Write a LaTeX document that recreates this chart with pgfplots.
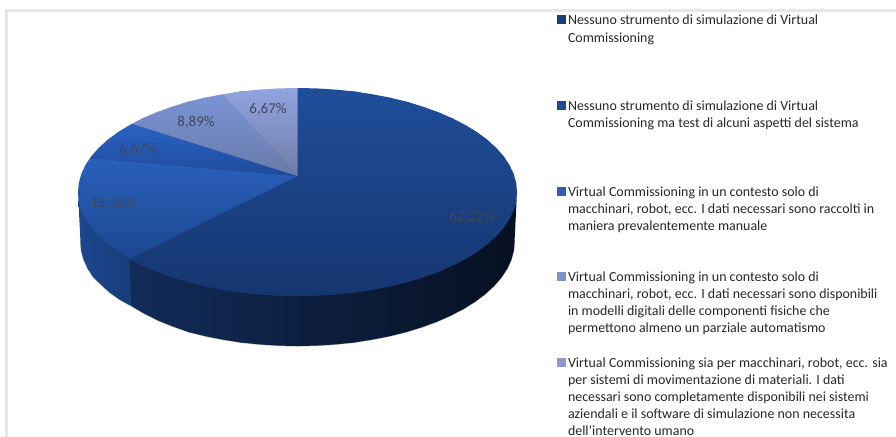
\documentclass[border=0pt]{standalone}
\usepackage{pgfplots}
\usepackage{fontspec}
\setmainfont{Carlito}
\pgfplotsset{compat=1.18}
\definecolor{frameC}{HTML}{E4E8EE}
\definecolor{labC}{HTML}{404858}
\definecolor{legC}{HTML}{262626}
\definecolor{s1}{HTML}{1F4E9A}\definecolor{s1b}{HTML}{163670}
\definecolor{s2}{HTML}{2A60BB}\definecolor{s2b}{HTML}{1C4790}
\definecolor{s3}{HTML}{2A62C4}\definecolor{s3b}{HTML}{1F4C9C}
\definecolor{s4}{HTML}{7B94D6}\definecolor{s4b}{HTML}{687AA8}
\definecolor{s5}{HTML}{92A4E0}\definecolor{s5b}{HTML}{6F7CA6}
\definecolor{k1}{HTML}{1A3E7E}\definecolor{k1x}{HTML}{1E4A9A}\definecolor{k2}{HTML}{2C5FB5}\definecolor{k4}{HTML}{7D93CE}\definecolor{k5}{HTML}{8A9AD0}
\definecolor{back}{HTML}{1A3E80}
\begin{document}
\begin{tikzpicture}
\path[use as bounding box] (0,0) rectangle (896bp,437bp);
\begin{axis}[
  at={(0,0)}, anchor=south west,
  scale only axis, width=896bp, height=437bp,
  xmin=0, xmax=896, ymin=0, ymax=437, y dir=reverse,
  hide axis, clip=false,
]
% frame
\addplot[no marks, draw=frameC, line width=2.4pt] coordinates {(6.5,437) (6.5,10.5) (896,10.5)};
% shadow under the side
\addplot[no marks, draw=gray!55, line width=1.1pt] coordinates {
(80.5,242)(81.3,251.1)(83.8,260.1)(87.9,268.9)(93.6,277.6)(100.9,284.5)(109.6,292.5)(119.8,299.7)(131.3,306)(144.1,313.5)(158,320.5)(173,326.5)(189,332.1)(205.8,336.3)(223.3,339.7)(241.3,342.5)(259.8,344.4)(278.6,345.6)(297.5,346)(316.4,345.6)(335.2,344.4)(353.7,342.5)(371.7,339.7)(389.2,336.3)(406,332.1)(422,327.2)(437,321.7)(450.9,315.5)(463.7,308.9)(475.2,301.7)(485.4,294)(494.1,286)(501.4,277.6)(507.1,268.9)(511.2,260.1)(513.7,251.1)(514.5,242)};
% backing, inside the outline, so that no white shows at the seams
\addplot[draw=none, fill=back] coordinates {
(78.5,192)(85.5,165.1)(107.4,140)(142.3,118.5)(187.7,101.9)(240.7,91.5)(297.5,88.5)(354.3,91.5)(407.3,101.9)(452.7,118.5)(487.6,140)(509.5,165.1)(516.5,192)(513,242)(507.1,268.9)(485.4,294)(450.9,315.5)(406,332.1)(353.7,342.5)(297.5,345.5)(241.3,342.5)(189,332.1)(144.1,313)(109.6,292)(87.9,268.9)(81,242)} -- cycle;
% side: 62,22 %
\addplot[draw=none, shade, left color=k1!70!black, middle color=s1b!35!black, right color=s1b!30!black] coordinates {
(129.4,258.9)(142.3,265.5)(156.4,271.7)(171.6,277.2)(187.7,282.1)(204.7,286.3)(222.4,289.7)(240.7,292.5)(259.4,294.4)(278.4,295.6)(297.5,296)(316.6,295.6)(335.6,294.4)(354.3,292.5)(372.6,289.7)(390.3,286.3)(407.3,282.1)(423.4,277.2)(438.6,271.7)(452.7,265.5)(465.6,258.9)(477.3,251.7)(487.6,244)(496.4,236)(503.8,227.6)(509.5,218.9)(513.7,210.1)(516.2,201.1)(517,192)
(514.5,242)(513.7,251.1)(511.2,260.1)(507.1,268.9)(501.4,277.6)(494.1,286)(485.4,294)(475.2,301.7)(463.7,308.9)(450.9,315.5)(437,321.7)(422,327.2)(406,332.1)(389.2,336.3)(371.7,339.7)(353.7,342.5)(335.2,344.4)(316.4,345.6)(297.5,346)(278.6,345.6)(259.8,344.4)(241.3,342.5)(223.3,339.7)(205.8,336.3)(189,332.1)(173,326.5)(158,320.5)(144.1,313.5)(131.3,306)} -- cycle;
% side: 15,56 %
\addplot[draw=none, shade, left color=s2b, right color=s2b!85!black] coordinates {
(78,192)(78.8,201.1)(81.3,210.1)(85.5,218.9)(91.2,227.6)(98.6,236)(107.4,244)(117.7,251.7)(129.4,258.9)
(131.3,306)(119.8,299.7)(109.6,292.5)(100.9,284.5)(93.6,277.6)(87.9,268.9)(83.8,260.1)(81.3,251.1)(80.5,242)} -- cycle;
% top: 62,22 %
\addplot[draw=none, shade, top color=s1, bottom color=s1b] coordinates {
(297.5,176)(297.5,88)(316.6,88.4)(335.6,89.6)(354.3,91.5)(372.6,94.3)(390.3,97.7)(407.3,101.9)(423.4,106.8)(438.6,112.3)(452.7,118.5)(465.6,125.1)(477.3,132.3)(487.6,140)(496.4,148)(503.8,156.4)(509.5,165.1)(513.7,173.9)(516.2,182.9)(517,192)(516.2,201.1)(513.7,210.1)(509.5,218.9)(503.8,227.6)(496.4,236)(487.6,244)(477.3,251.7)(465.6,258.9)(452.7,265.5)(438.6,271.7)(423.4,277.2)(407.3,282.1)(390.3,286.3)(372.6,289.7)(354.3,292.5)(335.6,294.4)(316.6,295.6)(297.5,296)(278.4,295.6)(259.4,294.4)(240.7,292.5)(222.4,289.7)(204.7,286.3)(187.7,282.1)(171.6,277.2)(156.4,271.7)(142.3,265.5)(129.4,258.9)} -- cycle;
% top: 15,56 %
\addplot[draw=none, shade, top color=s2, bottom color=s2b] coordinates {
(297.5,176)(129.4,258.9)(117.7,251.7)(107.4,244)(98.6,236)(91.2,227.6)(85.5,218.9)(81.3,210.1)(78.8,201.1)(78,192)(78.8,182.9)(81.3,173.9)(85.5,165.1)(90,158.1)} -- cycle;
% top: 6,67 %
\addplot[draw=none, shade, top color=s3, bottom color=s3b] coordinates {
(297.5,176)(90,158.1)(91.2,156.4)(98.6,148)(107.4,140)(117.7,132.3)(131.8,123.8)} -- cycle;
% top: 8,89 %
\addplot[draw=none, shade, top color=s4, bottom color=s4b] coordinates {
(297.5,176)(131.8,123.8)(142.3,118.5)(156.4,112.3)(171.6,106.8)(187.7,101.9)(204.7,97.7)(222.4,94.3)} -- cycle;
% top: 6,67 %
\addplot[draw=none, shade, top color=s5, bottom color=s5b] coordinates {
(297.5,176)(222.4,94.3)(240.7,91.5)(259.4,89.6)(278.4,88.4)(297.5,88)} -- cycle;
% data labels
\begin{scope}[every node/.style={font=\fontsize{15}{16}\selectfont, text=labC, anchor=center, inner sep=0pt, outer sep=0pt}]
\node at (axis cs:472,217) {62,22\%};
\node at (axis cs:113,203) {15,56\%};
\node at (axis cs:138,149) {6,67\%};
\node at (axis cs:196,122) {8,89\%};
\node at (axis cs:268,109) {6,67\%};
\end{scope}
% legend keys
\addplot[only marks, mark=square*, mark size=3.9bp, color=k1] coordinates {(561,19)};
\addplot[only marks, mark=square*, mark size=3.9bp, color=k1x] coordinates {(561,105)};
\addplot[only marks, mark=square*, mark size=3.9bp, color=k2] coordinates {(561,191)};
\addplot[only marks, mark=square*, mark size=3.9bp, color=k4] coordinates {(561,276)};
\addplot[only marks, mark=square*, mark size=3.9bp, color=k5] coordinates {(561,362)};
% legend text
\begin{scope}[every node/.style={font=\fontsize{14}{16}\selectfont, text=legC, anchor=base west, inner sep=0pt, outer sep=0pt}]
\node at (axis cs:568,25) {Nessuno strumento di simulazione di Virtual};
\node at (axis cs:568,42) {Commissioning};
\node at (axis cs:568,110) {Nessuno strumento di simulazione di Virtual};
\node at (axis cs:568,127) {Commissioning ma test di alcuni aspetti del sistema};
\node at (axis cs:568,196) {Virtual Commissioning in un contesto solo di};
\node at (axis cs:568,213) {macchinari, robot, ecc. I dati necessari sono raccolti in};
\node at (axis cs:568,230) {maniera prevalentemente manuale};
\node at (axis cs:568,281) {Virtual Commissioning in un contesto solo di};
\node at (axis cs:568,298) {macchinari, robot, ecc. I dati necessari sono disponibili};
\node at (axis cs:568,315) {in modelli digitali delle componenti fisiche che};
\node at (axis cs:568,332) {permettono almeno un parziale automatismo};
\node at (axis cs:568,367) {Virtual Commissioning sia per macchinari, robot, ecc. sia};
\node at (axis cs:568,384) {per sistemi di movimentazione di materiali. I dati};
\node at (axis cs:568,401) {necessari sono completamente disponibili nei sistemi};
\node at (axis cs:568,418) {aziendali e il software di simulazione non necessita};
\node at (axis cs:568,435) {dell'intervento umano};
\end{scope}
\end{axis}
\end{tikzpicture}
\end{document}
